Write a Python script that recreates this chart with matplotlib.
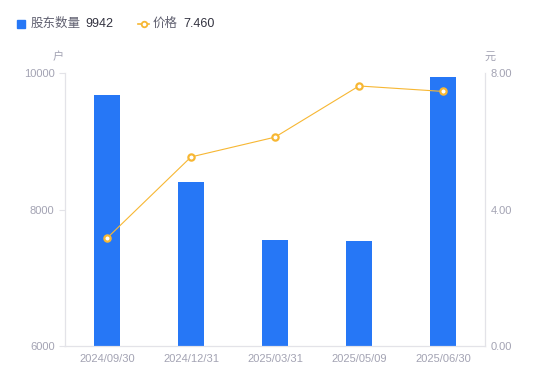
import matplotlib.pyplot as plt
import numpy as np

plt.rcParams['font.family'] = ['Liberation Sans', 'Noto Sans CJK SC', 'DejaVu Sans']

# ----- data -----
dates = ["2024/09/30", "2024/12/31", "2025/03/31", "2025/05/09", "2025/06/30"]
holders = [9680, 8400, 7555, 7540, 9942]
price = [3.16, 5.54, 6.12, 7.62, 7.46]

bar_color = "#2677f6"
line_color = "#f7b733"
axis_color = "#e3e3e8"
text_color = "#a3a3b3"

fig = plt.figure(figsize=(5.5, 3.81), dpi=100)
ax = fig.add_axes([65 / 550, 35 / 381, 420 / 550, 273 / 381])
ax2 = ax.twinx()

x = np.arange(len(dates))
ax.bar(x, holders, width=0.31, color=bar_color, zorder=2)
ax.set_ylim(6000, 10000)
ax.set_xlim(-0.5, len(dates) - 0.5)
ax.set_yticks([6000, 8000, 10000])
ax.set_xticks(x)
ax.set_xticklabels(dates)

ax2.plot(x, price, color=line_color, lw=0.8, marker="o", ms=4.5,
         mfc="white", mec=line_color, mew=1.6, zorder=3)
ax2.set_ylim(0, 8)
ax2.set_yticks([0, 4, 8])
ax2.set_yticklabels(["0.00", "4.00", "8.00"])

for a in (ax, ax2):
    for s in a.spines.values():
        s.set_color(axis_color)
    a.spines["top"].set_visible(False)
    a.tick_params(colors=text_color, labelsize=8, length=4, width=0.8)
    a.tick_params(axis="y", color=axis_color)
ax.tick_params(axis="x", length=0, pad=6)
ax2.tick_params(axis="y", length=0, pad=4)

fig.text(58 / 550, 1 - 57 / 381, "户", color=text_color, fontsize=8, ha="center", va="center")
fig.text(490 / 550, 1 - 57 / 381, "元", color=text_color, fontsize=8, ha="center", va="center")

# legend
fig.patches.append(plt.Rectangle((17 / 550, 1 - 28 / 381), 8 / 550, 8 / 381,
                                 transform=fig.transFigure, color=bar_color))
fig.text(31 / 550, 1 - 24 / 381, "股东数量", color="#606070", fontsize=9, va="center")
fig.text(85 / 550, 1 - 24 / 381, "9942", color="#333340", fontsize=9, va="center")
fig.lines.append(plt.Line2D([138 / 550, 143.5 / 550, 149 / 550], [1 - 24 / 381] * 3,
                            transform=fig.transFigure, color=line_color, lw=1.2,
                            marker="o", ms=4, mfc="white", mec=line_color, mew=1.3,
                            markevery=[1]))
fig.text(153 / 550, 1 - 24 / 381, "价格", color="#606070", fontsize=9, va="center")
fig.text(183 / 550, 1 - 24 / 381, "7.460", color="#333340", fontsize=9, va="center")

fig.savefig("out.png", dpi=100)
